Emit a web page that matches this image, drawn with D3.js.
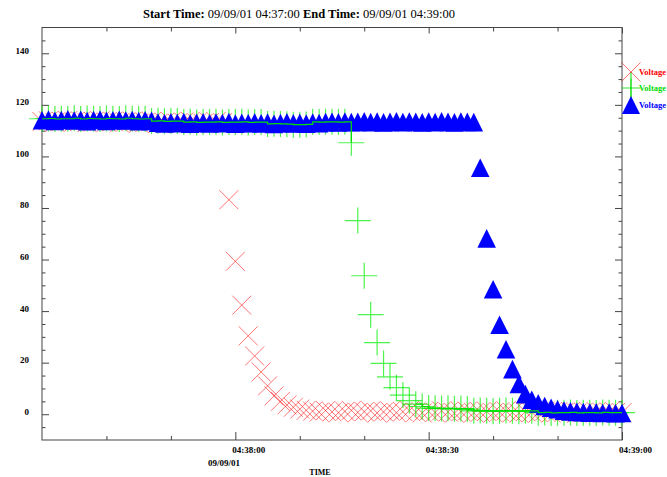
<!DOCTYPE html>
<html>
<head>
<meta charset="utf-8">
<script src="https://cdn.jsdelivr.net/npm/d3@7/dist/d3.min.js"></script>
<style>
  body { margin: 0; background: #fff; }
  svg { display: block; font-family: "Liberation Serif", "DejaVu Serif", serif; }
</style>
</head>
<body>
<svg width="667" height="477"></svg>
<script>
// one sample per second from 04:37:30 to 04:39:00
const startTime = new Date(2001, 8, 9, 4, 37, 30);
const endTime = new Date(2001, 8, 9, 4, 39, 0);

// red X series
const redValues = [
  113.5, 113.8, 113.2, 113.6, 113.9, 113.4, 113.7, 113.1, 113.5, 113.8,
  113.3, 113.6, 113.0, 113.4, 113.7, 112.9, 113.2, 113.5, 112.8, 113.1,
  113.4, 112.9, 113.3, 113.6, 113.0, 112.8, 113.2, 113.5, 113.1,
  83.2, 59.3, 42.3, 30.4, 22.6, 16.4, 11.0, 7.1, 5.0, 3.6, 2.7,
  2.0, 1.5, 1.2, 0.8, 1.4, 0.9, 0.6, 1.1, 1.5, 0.7,
  1.0, 1.3, 0.5, 0.9, 1.2, 0.6, 1.0, 1.4, 0.8, 0.5,
  1.1, 0.7, 1.3, 0.9, 0.4, 1.0, 1.2, 0.6, 0.8, 1.1,
  0.5, 0.9, 1.3, 0.7, 0.4, 1.0, 0.8, 0.6, 1.2, 0.5,
  0.9, 0.7, 1.1, 0.4, 0.8, 0.6, 1.0, 0.5, 0.9, 0.7,
  0.6
];

// green + series
const greenValues = [
  114.6, 114.7, 114.5, 114.6, 114.6, 114.8, 114.5, 114.7, 114.6, 114.5,
  114.7, 114.6, 114.5, 114.8, 114.6, 114.5, 114.6, 113.7, 113.8, 113.6,
  113.7, 113.7, 113.3, 113.4, 113.2, 113.3, 113.3, 113.4, 113.2, 113.3,
  113.3, 113.4, 113.2, 113.3, 113.3, 112.6, 112.7, 112.6, 112.5, 112.3,
  112.3, 112.4, 113.4, 113.3, 113.4, 113.4, 113.3, 113.4,
  105.3, 75.1, 53.7, 38.6, 27.8, 19.7, 14.5, 10.3, 7.4, 5.3, 3.9, 3.0,
  2.4, 2.3, 2.2, 2.3, 2.1, 2.2, 2.0, 1.3, 1.4, 1.3,
  1.2, 1.3, 1.4, 1.3, 1.2, 1.3, 1.3, 0.6, 0.7, 0.5,
  0.6, 0.6, 0.7, 0.5, 0.6, 0.6, 0.5, 0.7, 0.6, 0.6,
  0.6
];

// blue triangle series
const blueValues = [
  114.0, 114.3, 113.8, 114.1, 114.4, 113.9, 114.2, 113.7, 114.1, 114.3,
  113.8, 114.0, 114.2, 113.9, 114.1, 113.7, 114.0, 113.8, 113.1, 112.8,
  113.2, 112.9, 113.3, 112.7, 113.0, 113.2, 112.8, 113.1, 112.9, 113.3,
  112.7, 113.0, 112.9, 113.2, 112.8, 113.1, 112.6, 112.9, 113.2, 112.8,
  113.0, 112.7, 113.1, 112.9, 113.3, 113.4, 113.2, 113.5, 113.3, 113.4,
  113.6, 113.3, 113.5, 113.2, 113.4, 113.6, 113.3, 113.5, 113.4, 113.2,
  113.5, 113.3, 113.6, 113.4, 113.2, 113.5, 113.4, 113.3,
  95.6, 68.2, 48.5, 34.7, 25.2, 17.5, 11.7, 7.8, 5.6, 4.2, 3.2, 2.5, 1.9,
  1.4, 1.1, 0.9, 0.8, 0.6, 0.7, 0.5, 0.6, 0.4, 0.5
];

const times = redValues.map((v, i) => d3.timeSecond.offset(startTime, i));

const yMajorTicks = [0, 20, 40, 60, 80, 100, 120, 140];
const yMinorTicks = d3.range(-5, 150, 5).filter(v => v % 20 !== 0);
const xMajorTicks = [new Date(2001, 8, 9, 4, 38, 0), new Date(2001, 8, 9, 4, 38, 30), endTime];
const xMinorTicks = d3.timeSecond.every(10).range(d3.timeSecond.offset(startTime, 10), endTime)
  .filter(d => d.getSeconds() % 30 !== 0);

const titleParts = [
  { text: "Start Time: ", bold: true },
  { text: "09/09/01 04:37:00 ", bold: false },
  { text: "End Time: ", bold: true },
  { text: "09/09/01 04:39:00", bold: false }
];
const legendItems = [
  { label: "Voltage", color: "#ff0000", shape: "x" },
  { label: "Voltage", color: "#00dd00", shape: "plus" },
  { label: "Voltage", color: "#0000ff", shape: "tri" }
];

const svg = d3.select("svg");
const mLeft = 42, mRight = 622, mTop = 27.5, mBottom = 440;

const x = d3.scaleTime().domain([startTime, endTime]).range([mLeft, mRight]);
const y = d3.scaleLinear().domain([-10, 150]).range([mBottom, mTop]);

// title
const title = svg.append("text")
  .attr("x", 143).attr("y", 18)
  .style("font-size", "12.5px");
title.selectAll("tspan").data(titleParts).enter().append("tspan")
  .style("font-weight", d => d.bold ? "bold" : "normal")
  .style("white-space", "pre")
  .text(d => d.text);

// frame
svg.append("rect")
  .attr("x", mLeft).attr("y", mTop)
  .attr("width", mRight - mLeft).attr("height", mBottom - mTop)
  .attr("fill", "none").attr("stroke", "#444").attr("stroke-width", 1);

function tickAxis(axis, tx, ty) {
  const g = svg.append("g").attr("transform", `translate(${tx},${ty})`).call(axis);
  g.select(".domain").remove();
  g.selectAll(".tick line").attr("stroke", "#444");
  return g;
}

// y ticks, inside on both sides
tickAxis(d3.axisRight(y).tickValues(yMajorTicks).tickSize(7).tickFormat(""), mLeft, 0);
tickAxis(d3.axisRight(y).tickValues(yMinorTicks).tickSize(3.5).tickFormat(""), mLeft, 0);
tickAxis(d3.axisLeft(y).tickValues(yMajorTicks).tickSize(7).tickFormat(""), mRight, 0);
tickAxis(d3.axisLeft(y).tickValues(yMinorTicks).tickSize(3.5).tickFormat(""), mRight, 0);

// x ticks, inside on top and bottom
tickAxis(d3.axisTop(x).tickValues(xMajorTicks).tickSize(8).tickFormat(""), 0, mBottom);
tickAxis(d3.axisTop(x).tickValues(xMinorTicks).tickSize(4).tickFormat(""), 0, mBottom);
tickAxis(d3.axisBottom(x).tickValues(xMajorTicks).tickSize(6).tickFormat(""), 0, mTop);
tickAxis(d3.axisBottom(x).tickValues(xMinorTicks).tickSize(4).tickFormat(""), 0, mTop);

// y labels
svg.append("g").selectAll("text").data(yMajorTicks).enter().append("text")
  .attr("x", 29).attr("y", d => y(d) + 0.5)
  .attr("text-anchor", "end")
  .style("font-size", "9px").style("font-weight", "bold")
  .text(d => d);

// x labels
const fmt = d3.timeFormat("%H:%M:%S");
svg.append("g").selectAll("text").data(xMajorTicks).enter().append("text")
  .attr("x", d => x(d) - 3).attr("y", 453)
  .style("font-size", "9px").style("font-weight", "bold")
  .text(d => fmt(d));
svg.append("text").attr("x", 208).attr("y", 465.5)
  .style("font-size", "9px").style("font-weight", "bold")
  .text(d3.timeFormat("%m/%d/%y")(xMajorTicks[0]));
svg.append("text").attr("x", 320).attr("y", 475).attr("text-anchor", "middle")
  .style("font-size", "8px").style("font-weight", "bold")
  .text("TIME");

// markers
const xPath = r => `M${-r},${-r}L${r},${r}M${-r},${r}L${r},${-r}`;
const plusPath = r => `M${-r},0L${r},0M0,${-r}L0,${r}`;
const triPath = r => `M0,${-r}L${r},${r}L${-r},${r}Z`;

const plot = svg.append("g");

plot.append("g").selectAll("path").data(redValues).enter().append("path")
  .attr("transform", (d, i) => `translate(${x(times[i])},${y(d)})`)
  .attr("d", xPath(9.5))
  .attr("fill", "none").attr("stroke", "#ff0000")
  .attr("stroke-opacity", 0.55).attr("stroke-width", 1);

plot.append("g").selectAll("path").data(greenValues).enter().append("path")
  .attr("transform", (d, i) => `translate(${x(times[i])},${y(d)})`)
  .attr("d", plusPath(13))
  .attr("fill", "none").attr("stroke", "#00ee00")
  .attr("stroke-opacity", 0.7).attr("stroke-width", 1.2);

plot.append("g").selectAll("path").data(blueValues).enter().append("path")
  .attr("transform", (d, i) => `translate(${x(times[i])},${y(d)})`)
  .attr("d", triPath(9.3))
  .attr("fill", "#0000ff");

// green connecting line on the flat parts
const greenLine = d3.line()
  .defined(d => d > 100 || d < 5)
  .x((d, i) => x(times[i]))
  .y(d => y(d))
  .curve(d3.curveStepAfter);
plot.append("path").datum(greenValues)
  .attr("d", greenLine)
  .attr("fill", "none").attr("stroke", "#00dd00").attr("stroke-width", 1.2);

// legend
const lx = 631, ly = [72, 88, 105];
svg.append("line").attr("x1", lx).attr("x2", lx).attr("y1", ly[0]).attr("y2", ly[2] - 6)
  .attr("stroke", "#00dd00").attr("stroke-width", 1);
const leg = svg.append("g").selectAll("g").data(legendItems).enter().append("g")
  .attr("transform", (d, i) => `translate(${lx},${ly[i]})`);
leg.append("path")
  .attr("d", d => d.shape === "x" ? xPath(9.5) : d.shape === "plus" ? plusPath(9.5) : triPath(9))
  .attr("fill", d => d.shape === "tri" ? d.color : "none")
  .attr("stroke", d => d.shape === "tri" ? "none" : d.color)
  .attr("stroke-opacity", d => d.shape === "x" ? 0.55 : 0.8);
leg.append("text")
  .attr("x", 8).attr("y", 3)
  .attr("fill", d => d.color)
  .style("font-size", "8.5px").style("font-weight", "bold")
  .text(d => d.label);
</script>
</body>
</html>
